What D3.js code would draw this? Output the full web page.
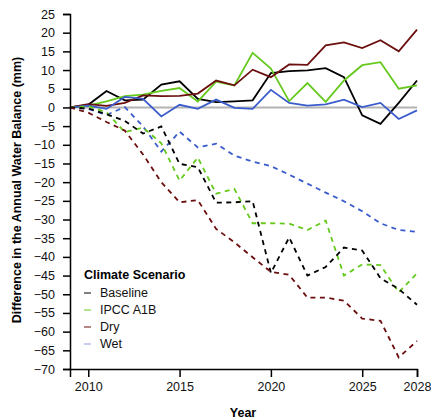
<!DOCTYPE html>
<html>
<head>
<meta charset="utf-8">
<script src="https://d3js.org/d3.v7.min.js"></script>
<style>
  body { margin: 0; background: #fff; }
  svg text { font-family: "Liberation Sans", Arial, sans-serif; }
</style>
</head>
<body>
<div id="my_dataviz"></div>
<script>
// Years on the x axis
var years = d3.range(2009, 2029);

// Solid lines (first run)
var baselineSolid = [0, 0.7, 4.4, 1.9, 2.1, 6.1, 7.0, 2.3, 1.4, 1.6, 1.9, 9.2, 9.7, 9.9, 10.5, 8.1, -2.1, -4.4, 1.2, 7.2];
var ipccSolid     = [0, 0.5, 1.6, 3.0, 3.4, 4.4, 5.2, 1.6, 6.9, 5.9, 14.6, 10.4, 1.7, 6.5, 1.5, 7.2, 11.3, 12.1, 5.0, 5.9];
var drySolid      = [0, 0.9, 0.4, 1.2, 3.2, 3.0, 3.1, 3.7, 7.2, 5.9, 10.1, 8.1, 11.5, 11.4, 16.6, 17.4, 15.9, 18.0, 15.0, 20.8];
var wetSolid      = [0, 0.5, -0.4, 2.8, 2.3, -2.4, 0.7, -0.4, 2.1, -0.1, -0.4, 4.7, 1.2, 0.5, 0.8, 2.1, 0.1, 1.2, -3.1, -0.8];

// Dashed lines (second run)
var baselineDash = [0, -0.3, -1.8, -3.6, -7.0, -5.1, -15.1, -16.0, -25.5, -25.4, -25.1, -44.3, -34.8, -45.0, -42.7, -37.5, -38.3, -45.7, -48.6, -52.8];
var ipccDash     = [0, 0.3, -1.3, -6.6, -5.4, -9.6, -19.6, -13.4, -23.1, -21.8, -31.0, -31.0, -31.1, -32.8, -30.3, -45.0, -42.0, -42.2, -49.5, -44.4];
var dryDash      = [0, -1.4, -3.9, -6.2, -12.6, -20.0, -25.4, -24.8, -32.5, -36.1, -40.1, -44.0, -44.8, -50.9, -50.9, -51.7, -56.5, -57.1, -66.9, -62.5];
var wetDash      = [0, -0.4, -2.0, 0.1, -5.1, -11.8, -6.5, -10.7, -9.7, -12.9, -14.5, -15.7, -18.0, -20.4, -22.8, -25.1, -27.8, -31.0, -32.8, -33.3];

var scenarios = ["Baseline", "IPCC A1B", "Dry", "Wet"];
var colors = ["#000000", "#66c91e", "#6b0f0f", "#3a5bcb"];
var yTicks = d3.range(-70, 30, 5);
var xTicks = [2010, 2015, 2020, 2025, 2028];

// Size of the page
var W = 431, H = 420;

var svg = d3.select("#my_dataviz")
    .append("svg")
    .attr("width", W)
    .attr("height", H);

// Scales
var x = d3.scaleLinear().domain([2009, 2028]).range([70, 417]);
var y = d3.scaleLinear().domain([-70, 25]).range([369, 14]);

// Zero reference line
svg.append("line")
    .attr("x1", x(2009)).attr("x2", x(2028))
    .attr("y1", y(0)).attr("y2", y(0))
    .style("stroke", "#b3b3b3")
    .style("stroke-width", 2);

// Build the series list
var series = [
    { name: "Baseline", values: baselineSolid, dashed: false },
    { name: "IPCC A1B", values: ipccSolid, dashed: false },
    { name: "Dry", values: drySolid, dashed: false },
    { name: "Wet", values: wetSolid, dashed: false },
    { name: "Wet", values: wetDash, dashed: true },
    { name: "IPCC A1B", values: ipccDash, dashed: true },
    { name: "Baseline", values: baselineDash, dashed: true },
    { name: "Dry", values: dryDash, dashed: true }
];

var line = d3.line()
    .x(function(d, i) { return x(years[i]); })
    .y(function(d) { return y(d); });

svg.selectAll(".series")
    .data(series)
    .enter()
    .append("path")
    .attr("class", "series")
    .attr("d", function(d) { return line(d.values); })
    .style("fill", "none")
    .style("stroke", function(d) { return colors[scenarios.indexOf(d.name)]; })
    .style("stroke-width", 1.8)
    .style("stroke-dasharray", function(d) { return d.dashed ? "5,4.5" : null; });

// Y axis
var yAxis = svg.append("g")
    .attr("transform", "translate(" + x(2009) + ",0)")
    .call(d3.axisLeft(y).tickValues(yTicks).tickSize(7).tickPadding(8));

// X axis
var xAxis = svg.append("g")
    .attr("transform", "translate(0," + y(-70) + ")")
    .call(d3.axisBottom(x).tickValues(xTicks).tickFormat(d3.format("d")).tickSize(8).tickPadding(5));

[yAxis, xAxis].forEach(function(g) {
    g.selectAll("path, line").style("stroke", "#000").style("stroke-width", 1.5);
    g.selectAll("text").style("font-size", "12.5px").style("fill", "#111");
});

// Axis titles
svg.append("text")
    .attr("x", 243).attr("y", 417)
    .attr("text-anchor", "middle")
    .style("font-size", "12.5px")
    .style("font-weight", "bold")
    .text("Year");

svg.append("text")
    .attr("transform", "translate(21,190) rotate(-90)")
    .attr("text-anchor", "middle")
    .style("font-size", "12.5px")
    .style("font-weight", "bold")
    .text("Difference in the Annual Water Balance (mm)");

// Legend
var legend = svg.append("g").attr("transform", "translate(84,279)");

legend.append("text")
    .attr("x", 0).attr("y", 0)
    .style("font-size", "12.5px")
    .style("font-weight", "bold")
    .text("Climate Scenario");

var items = legend.selectAll(".item")
    .data(scenarios)
    .enter()
    .append("g")
    .attr("class", "item")
    .attr("transform", function(d, i) { return "translate(0," + (14 + i * 17) + ")"; });

items.append("line")
    .attr("x1", 0).attr("x2", 7)
    .attr("y1", 0).attr("y2", 0)
    .style("stroke", function(d, i) { return colors[i]; })
    .style("stroke-width", 1)
    .style("opacity", function(d, i) { return i === 3 ? 0.6 : 1; });

items.append("text")
    .attr("x", 16).attr("y", 0)
    .attr("dy", "0.35em")
    .style("font-size", "12.5px")
    .style("fill", "#111")
    .text(function(d) { return d; });
</script>
</body>
</html>
